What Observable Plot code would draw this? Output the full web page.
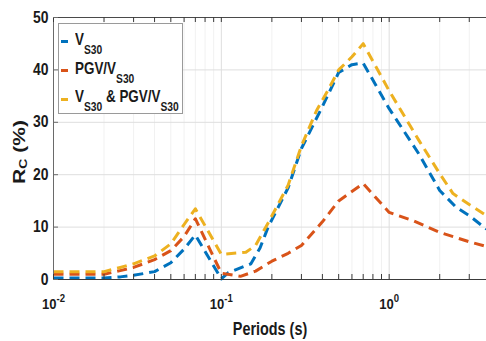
<!DOCTYPE html>
<html>
<head>
<meta charset="utf-8">
<script src="https://cdn.jsdelivr.net/npm/d3@7"></script>
<script src="https://cdn.jsdelivr.net/npm/@observablehq/plot@0.6"></script>
<style>
  html, body { margin: 0; padding: 0; background: #fff; }
  #wrap { position: relative; width: 486px; height: 341px; overflow: hidden;
          font-family: "Liberation Sans", Arial, sans-serif; font-weight: bold; color: #1a1a1a; }
  #legend { position: absolute; left: 58px; top: 23px; width: 125px; height: 91px;
            border: 1px solid #9a9a9a; background: #fff; box-sizing: border-box; }
  .sw { position: absolute; left: 2px; width: 7px; height: 3px; }
  .lbl { position: absolute; left: 16px; white-space: nowrap; font-size: 17px; line-height: 17px;
         transform: scaleX(0.79); transform-origin: 0 50%; }
  .lbl sub { font-size: 13px; vertical-align: -9px; line-height: 0; }
  #xtitle { position: absolute; left: 270px; top: 320px; font-size: 18px; line-height: 18px; white-space: nowrap;
            transform: translateX(-50%) scaleX(0.8); transform-origin: 50% 50%; }
  #ytitle { position: absolute; left: 19px; top: 152px; font-size: 21px; line-height: 21px; white-space: nowrap;
            transform: translate(-50%, -50%) scaleX(0.8) rotate(-90deg); transform-origin: 50% 50%; }
  #ytitle sub { font-size: 14px; vertical-align: -3px; line-height: 0; }
</style>
</head>
<body>
<div id="wrap">
  <div id="chart"></div>
  <div id="legend"></div>
  <div id="xtitle">Periods (s)</div>
  <div id="ytitle">R<sub>C</sub> (%)</div>
</div>
<script>
// ---------- data ----------
const seriesNames = ["V<sub>S30</sub>", "PGV/V<sub>S30</sub>", "V<sub>S30</sub> &amp; PGV/V<sub>S30</sub>"];
const seriesColors = ["#0072BD", "#D95319", "#EDB120"];

const periodsVs30 = [0.01, 0.015, 0.02, 0.025, 0.03, 0.04, 0.05, 0.06, 0.07, 0.1, 0.11, 0.15, 0.17, 0.19, 0.25, 0.3, 0.4, 0.5, 0.6, 0.7, 1.0, 1.5, 2.0, 2.5, 3.0, 3.8];
const rcVs30      = [0.3, 0.3, 0.3, 0.5, 0.8, 1.5, 3.2, 5.8, 8.5, 0.1, 1.3, 3.0, 6.0, 10.0, 17.5, 25.0, 33.0, 39.5, 41.0, 41.3, 32.6, 24.0, 17.0, 13.8, 12.2, 9.6];

const periodsPgv  = [0.01, 0.015, 0.02, 0.025, 0.03, 0.04, 0.05, 0.06, 0.07, 0.1, 0.13, 0.16, 0.2, 0.25, 0.3, 0.4, 0.5, 0.7, 1.0, 1.4, 2.0, 3.0, 3.8];
const rcPgv       = [1.0, 1.0, 1.0, 1.7, 2.3, 3.8, 5.5, 8.2, 11.6, 1.2, 0.6, 1.6, 3.5, 5.0, 6.5, 11.0, 15.0, 18.3, 12.8, 11.2, 9.0, 7.2, 6.3];

const periodsBoth = [0.01, 0.015, 0.02, 0.025, 0.03, 0.04, 0.05, 0.06, 0.07, 0.1, 0.14, 0.16, 0.19, 0.25, 0.3, 0.37, 0.43, 0.5, 0.6, 0.7, 1.0, 1.5, 2.0, 2.4, 3.0, 3.8];
const rcBoth      = [1.5, 1.5, 1.5, 2.3, 3.0, 4.5, 6.8, 10.5, 13.5, 4.8, 5.2, 6.5, 10.8, 18.0, 25.5, 32.3, 36.0, 40.0, 42.5, 45.0, 36.0, 26.6, 20.2, 16.4, 14.3, 12.2];

// ---------- axis ticks ----------
const xMajorTicks = [0.01, 0.1, 1];
const xMinorTicks = [0.02, 0.03, 0.04, 0.05, 0.06, 0.07, 0.08, 0.09,
                     0.2, 0.3, 0.4, 0.5, 0.6, 0.7, 0.8, 0.9, 2, 3];
const yTicks = [0, 10, 20, 30, 40, 50];
const xDomain = [0.01, 3.8];
const yDomain = [0, 50];

// ---------- build table ----------
const rows = [];
[[periodsVs30, rcVs30], [periodsPgv, rcPgv], [periodsBoth, rcBoth]].forEach(([ps, vs], i) => {
  ps.forEach((p, j) => rows.push({series: i, period: p, rc: vs[j]}));
});

const W = 486, H = 341, mL = 53, mR = 0, mT = 17, mB = 62;
const innerH = H - mT - mB, innerW = W - mL - mR;
const tickLen = 5;
const allXTicks = xMajorTicks.concat(xMinorTicks);

const plot = Plot.plot({
  width: W, height: H,
  marginLeft: mL, marginRight: mR, marginTop: mT, marginBottom: mB,
  style: {fontFamily: "'Liberation Sans', Arial, sans-serif", fontWeight: "bold", fontSize: "16px",
          color: "#1a1a1a", background: "transparent", overflow: "visible"},
  x: {type: "log", domain: xDomain},
  y: {domain: yDomain},
  marks: [
    Plot.ruleX(xMinorTicks, {stroke: "#f1f1f1", strokeWidth: 1}),
    Plot.ruleX(xMajorTicks, {stroke: "#dedede", strokeWidth: 1}),
    Plot.ruleY(yTicks.filter(d => d > yDomain[0] && d < yDomain[1]), {stroke: "#dedede", strokeWidth: 1}),
    ...[0, 1, 2].map(i => Plot.line(rows.filter(r => r.series === i), {
      x: "period", y: "rc", stroke: seriesColors[i], strokeWidth: 3,
      strokeDasharray: "10,6", strokeLinecap: "butt"
    })),
    Plot.ruleY([yDomain[0]], {stroke: "#3a3a3a", strokeWidth: 1}),
    Plot.ruleY([yDomain[1]], {stroke: "#4a4a4a", strokeWidth: 1}),
    Plot.ruleX([xDomain[0]], {stroke: "#6a6a6a", strokeWidth: 1}),
    Plot.tickX(allXTicks, {stroke: "#3a3a3a", insetTop: innerH - tickLen}),
    Plot.tickX(allXTicks, {stroke: "#3a3a3a", insetBottom: innerH - tickLen}),
    Plot.tickY(yTicks, {stroke: "#6a6a6a", insetRight: innerW - tickLen}),
    Plot.axisX({ticks: xMajorTicks, tickSize: 0, tickPadding: 19, fontSize: 15, label: null,
                tickFormat: d => "10^" + Math.round(Math.log10(d))}),
    Plot.axisY({ticks: yTicks, tickSize: 0, tickPadding: 5, fontSize: 16, label: null})
  ]
});
document.getElementById("chart").appendChild(plot);

// ---------- post-process tick labels: superscripts + narrow look ----------
function narrow(el, s) {
  const sel = d3.select(el);
  let tr = sel.attr("transform");
  if (!tr) {
    const x = +sel.attr("x") || 0, y = +sel.attr("y") || 0;
    sel.attr("x", null).attr("y", null);
    tr = `translate(${x},${y})`;
  }
  sel.attr("transform", tr + ` scale(${s},1)`);
}
const svg = d3.select(plot);
svg.selectAll("g[aria-label='x-axis tick label'] text").each(function () {
  const t = d3.select(this);
  const s = t.text();
  const [b, e] = s.split("^");
  t.text(null);
  t.append("tspan").text(b);
  t.append("tspan").attr("dy", "-7px").attr("font-size", "11px").text(e);
  narrow(this, 0.87);
});
svg.selectAll("g[aria-label='y-axis tick label'] text").each(function () { narrow(this, 0.87); });

// ---------- legend ----------
const legend = document.getElementById("legend");
const swatchY = [17, 46, 75];
const baseY = [21, 50, 78];
seriesNames.forEach((name, i) => {
  const sw = document.createElement("div");
  sw.className = "sw";
  sw.style.top = (swatchY[i] - 1.5) + "px";
  sw.style.background = seriesColors[i];
  legend.appendChild(sw);
  const lb = document.createElement("div");
  lb.className = "lbl";
  lb.style.top = (baseY[i] - 14.4) + "px";
  lb.innerHTML = name;
  legend.appendChild(lb);
});
</script>
</body>
</html>
